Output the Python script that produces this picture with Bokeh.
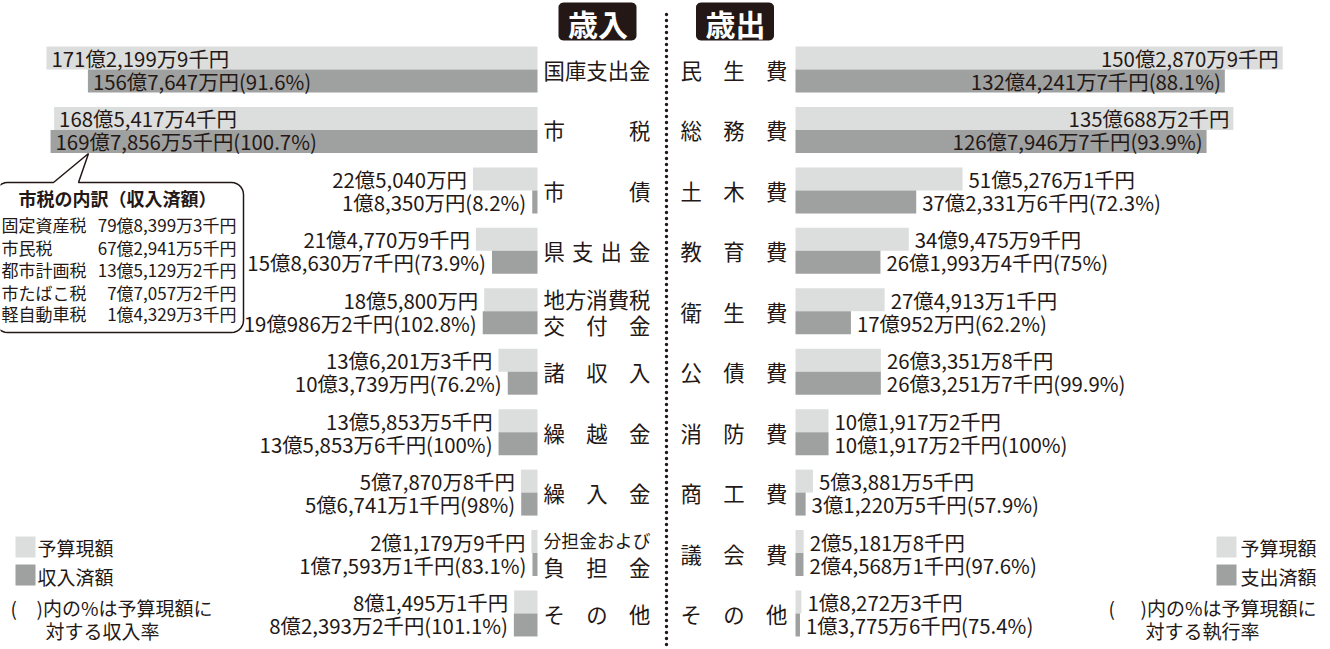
import numpy as np
from bokeh.plotting import figure
from bokeh.models import Range1d
from bokeh.embed import file_html
from bokeh.resources import INLINE
from bokeh.core.properties import value

# ---------------- data (values in thousand yen) ----------------
rev_categories = ["国庫支出金", "市税", "市債", "県支出金", "地方消費税\n交付金",
                  "諸収入", "繰越金", "繰入金", "分担金および\n負担金", "その他"]
rev_budget = [17121999, 16854174, 2250400, 2147709, 1858000,
              1362013, 1358535, 578708, 211799, 814951]
rev_actual = [15676470, 16978565, 183500, 1586307, 1909862,
              1037390, 1358536, 567411, 175931, 823932]
rev_rate = [91.6, 100.7, 8.2, 73.9, 102.8, 76.2, 100, 98, 83.1, 101.1]

exp_categories = ["民生費", "総務費", "土木費", "教育費", "衛生費",
                  "公債費", "消防費", "商工費", "議会費", "その他"]
exp_budget = [15028709, 13506882, 5152761, 3494759, 2749131,
              2633518, 1019172, 538815, 251818, 182723]
exp_actual = [13242417, 12679467, 3723316, 2619934, 1709520,
              2632517, 1019172, 312205, 245681, 137756]
exp_rate = [88.1, 93.9, 72.3, 75, 62.2, 99.9, 100, 57.9, 97.6, 75.4]

tax_names = ["固定資産税", "市民税", "都市計画税", "市たばこ税", "軽自動車税"]
tax_values = [7983993, 6729415, 1351292, 770572, 143293]

# ---------------- style ----------------
FONT = "Noto Sans CJK JP"
INK = "#231815"
LIGHT = "#dcdddd"
DARK = "#9fa0a0"
VAL_FS = 20.4

W, H = 1330, 649
OX, OY = 0, 0
L0, LS = 537, 2.868      # left origin (screen px) and px per 億
R0, RS = 795, 3.242      # right origin and px per 億
ROW0, PITCH = 69, 60.44  # first row centre, row pitch (px)
BH = 23 / PITCH
INSIDE = 100             # 億: longer bars carry their labels inside


def yen(v):
    oku, rest = divmod(v, 100000)
    man, sen = divmod(rest, 10)
    s = f"{oku}億" if oku else ""
    if man:
        s += f"{man:,}万"
    s += f"{sen}千円" if sen else "円"
    return s


def oku(vals):
    return [v / 100000 for v in vals]


p = figure(width=W, height=H, output_backend="svg", toolbar_location=None,
           x_axis_location=None, y_axis_location=None, min_border=0,
           x_range=Range1d((L0 - OX) / LS, -(OX + W - L0) / LS),
           y_range=Range1d((OY + H - ROW0) / PITCH, (OY - ROW0) / PITCH))
p.extra_x_ranges = {"right": Range1d(-(R0 - OX) / RS, (OX + W - R0) / RS),
                    "px": Range1d(OX, OX + W)}
p.extra_y_ranges = {"py": Range1d(OY + H, OY)}
p.xgrid.visible = False
p.ygrid.visible = False
p.outline_line_color = None
p.background_fill_color = "white"
p.border_fill_color = "white"

PX = dict(x_range_name="px", y_range_name="py")
rows = list(range(10))


def txt(x, y, t, size, align="left", color=INK, bold=False, xoff=0, **kw):
    p.text(x=x, y=y, text=t, text_font=value(FONT), text_font_size=f"{size}px",
           text_align=align, text_baseline="middle", text_color=color,
           text_font_style="bold" if bold else "normal", x_offset=xoff, **kw)


# ---------------- bars ----------------
for budget, actual, rate, rng, sign in [
        (rev_budget, rev_actual, rev_rate, "default", 1),
        (exp_budget, exp_actual, exp_rate, "right", -1)]:
    kw = {} if rng == "default" else {"x_range_name": "right"}
    b, a = oku(budget), oku(actual)
    p.hbar(y=[r - BH / 2 for r in rows], height=BH, left=0, right=b,
           fill_color=LIGHT, line_color=None, **kw)
    p.hbar(y=[r + BH / 2 for r in rows], height=BH, left=0, right=a,
           fill_color=DARK, line_color=None, **kw)
    b_txt = [yen(v) for v in budget]
    a_txt = [f"{yen(v)}({r:g}%)" for v, r in zip(actual, rate)]
    for vals, texts, dy in [(b, b_txt, -BH / 2), (a, a_txt, BH / 2)]:
        ins = [i for i in rows if vals[i] > INSIDE]
        out = [i for i in rows if vals[i] <= INSIDE]
        if sign == 1:
            in_align, in_off, out_align, out_off = "left", 5, "right", -6
        else:
            in_align, in_off, out_align, out_off = "right", -4, "left", 6
        txt([vals[i] for i in ins], [i + dy for i in ins], [texts[i] for i in ins],
            VAL_FS, in_align, xoff=in_off, **kw)
        txt([vals[i] for i in out], [i + dy for i in out], [texts[i] for i in out],
            VAL_FS, out_align, xoff=out_off, **kw)


# ---------------- category labels (justified) ----------------
def justified(label, row, x0, x1):
    lines = label.split("\n")
    for j, line in enumerate(lines):
        n = len(line)
        span = x1 - x0
        cs = min(21.4, span / n)
        step = (span - cs) / (n - 1) if n > 1 else 0
        if len(lines) == 1:
            ypx = ROW0 + row * PITCH
        else:
            ypx = ROW0 + row * PITCH + (-13 if j == 0 else 13)
        xs = [x0 + k * step for k in range(n)]
        txt(xs, [ypx] * n, list(line), round(cs, 1), "left", **PX)


for i, lab in enumerate(rev_categories):
    justified(lab, i, L0 + 6, L0 + 113)
for i, lab in enumerate(exp_categories):
    justified(lab, i, R0 - 115, R0 - 8)

# ---------------- centre dotted line ----------------
p.segment(x0=[666], y0=[14], x1=[666], y1=[H], line_color=INK,
          line_width=3.4, line_dash="0 6", line_cap="round", **PX)


# ---------------- header boxes ----------------
def arc(cx, cy, r, t0, t1, n=8):
    t = np.radians(np.linspace(t0, t1, n))
    return list(cx + r * np.cos(t)), list(cy + r * np.sin(t))


def rounded(x0, x1, y0, y1, r, tail=None):
    xs, ys = [x0 + r], [y0]
    if tail:
        for tx, ty in tail:
            xs.append(tx)
            ys.append(ty)
    for cx, cy, t0, t1 in [(x1 - r, y0 + r, -90, 0), (x1 - r, y1 - r, 0, 90),
                           (x0 + r, y1 - r, 90, 180), (x0 + r, y0 + r, 180, 270)]:
        ax, ay = arc(cx, cy, r, t0, t1)
        xs += ax
        ys += ay
    return xs, ys


for cx, label in [(597.5, "歳入"), (735, "歳出")]:
    bx, by = rounded(cx - 39.5, cx + 38.5, 2, 40, 5)
    p.patch(bx, by, fill_color=INK, line_color=None, **PX)
    txt([cx], [22], [label], 30, "center", color="white", bold=True, **PX)

# ---------------- callout (市税の内訳) ----------------
cx_, cy_ = rounded(-5, 243, 182, 332, 12, tail=[(53, 182), (88, 153), (78, 182)])
p.patch(cx_, cy_, fill_color="white", line_color=INK, line_width=1.5, **PX)
txt([117], [197], ["市税の内訳（収入済額）"], 18, "center", bold=True, **PX)
ty = [224, 247, 269, 292, 313]
txt([1] * 5, ty, tax_names, 17, "left", **PX)
txt([236] * 5, ty, [yen(v) for v in tax_values], 17, "right", **PX)

# ---------------- legends ----------------
for lx, tx_, kind, note, nx, px_ in [(15, 37, "収入済額", "対する収入率", 45, 10),
                                     (1216, 1240, "支出済額", "対する執行率", 1145, 1108)]:
    p.quad(left=[lx], right=[lx + 20], top=[536], bottom=[557],
           fill_color=LIGHT, line_color=None, **PX)
    p.quad(left=[lx], right=[lx + 20], top=[564], bottom=[585],
           fill_color=DARK, line_color=None, **PX)
    txt([tx_], [547], ["予算現額"], 19, **PX)
    txt([tx_], [576], [kind], 19, **PX)
    txt([px_], [607], ["("], 19, **PX)
    txt([px_ + 26 if lx < 100 else px_ + 32], [607], [")内の%は予算現額に"], 19, **PX)
    txt([nx], [630], [note], 19, **PX)

open("out.html", "w").write(file_html(p, INLINE))
